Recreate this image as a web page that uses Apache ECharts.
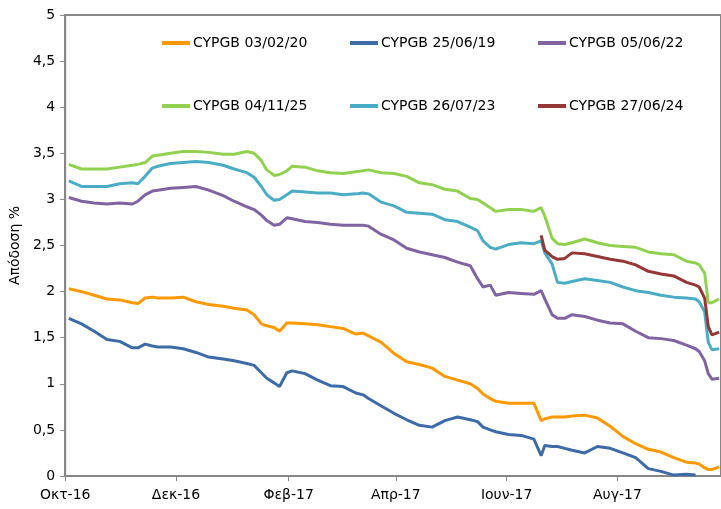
<!DOCTYPE html>
<html>
<head>
<meta charset="utf-8">
<script src="https://cdn.jsdelivr.net/npm/echarts@6/dist/echarts.min.js"></script>
<style>
  html, body { margin: 0; padding: 0; background: #fff; }
  #main { width: 721px; height: 509px; }
</style>
</head>
<body>
<div id="main"></div>
<script>
// sample dates (shared by all series)
var dates = [
    '2016-10-03', '2016-10-10', '2016-10-17', '2016-10-24', '2016-10-31', '2016-11-07', '2016-11-10',
    '2016-11-14', '2016-11-18', '2016-11-21', '2016-11-28', '2016-12-05', '2016-12-12', '2016-12-19',
    '2016-12-27', '2017-01-02', '2017-01-09', '2017-01-13', '2017-01-17', '2017-01-20', '2017-01-24',
    '2017-01-27', '2017-01-31', '2017-02-03', '2017-02-10', '2017-02-17', '2017-02-24', '2017-03-03',
    '2017-03-10', '2017-03-14', '2017-03-17', '2017-03-24', '2017-03-31', '2017-04-07', '2017-04-14',
    '2017-04-21', '2017-04-28', '2017-05-05', '2017-05-12', '2017-05-16', '2017-05-19', '2017-05-23',
    '2017-05-26', '2017-06-02', '2017-06-09', '2017-06-16', '2017-06-20', '2017-06-22', '2017-06-26',
    '2017-06-29', '2017-07-03', '2017-07-07', '2017-07-14', '2017-07-21', '2017-07-28', '2017-08-04',
    '2017-08-11', '2017-08-18', '2017-08-25', '2017-09-01', '2017-09-08', '2017-09-13', '2017-09-15',
    '2017-09-18', '2017-09-20', '2017-09-22', '2017-09-26'
];

var seriesNames = ['CYPGB 03/02/20', 'CYPGB 25/06/19', 'CYPGB 05/06/22',
                   'CYPGB 04/11/25', 'CYPGB 26/07/23', 'CYPGB 27/06/24'];
var colors = ['#FF9900', '#3D6BA7', '#8063A1', '#92D050', '#4BACC6', '#953735'];

// CYPGB 03/02/20
var orange = [
    2.03, 2.00, 1.96, 1.92, 1.91, 1.88, 1.87, 1.93, 1.94, 1.93, 1.93, 1.94, 1.89, 1.86,
    1.84, 1.82, 1.80, 1.75, 1.65, 1.63, 1.61, 1.57, 1.66, 1.66, 1.65, 1.64, 1.62, 1.60,
    1.54, 1.55, 1.52, 1.45, 1.33, 1.24, 1.21, 1.17, 1.08, 1.04, 1.00, 0.95, 0.89, 0.84,
    0.81, 0.79, 0.79, 0.79, 0.60, 0.62, 0.64, 0.64, 0.64, 0.65, 0.66, 0.63, 0.54, 0.43,
    0.35, 0.29, 0.26, 0.20, 0.15, 0.14, 0.13, 0.09, 0.07, 0.07, 0.10
];
// CYPGB 25/06/19 (ends mid-September)
var blue = [
    1.71, 1.65, 1.57, 1.48, 1.46, 1.39, 1.39, 1.43, 1.41, 1.40, 1.40, 1.38, 1.34, 1.29,
    1.27, 1.25, 1.22, 1.20, 1.12, 1.06, 1.01, 0.97, 1.12, 1.14, 1.11, 1.04, 0.98, 0.97,
    0.90, 0.88, 0.84, 0.76, 0.68, 0.61, 0.55, 0.53, 0.60, 0.64, 0.61, 0.59, 0.53, 0.50,
    0.48, 0.45, 0.44, 0.40, 0.22, 0.33, 0.32, 0.32, 0.30, 0.28, 0.25, 0.32, 0.30, 0.25,
    0.20, 0.08, 0.05, 0.01, 0.02, 0.01
];
// CYPGB 05/06/22
var purple = [
    3.02, 2.98, 2.96, 2.95, 2.96, 2.95, 2.98, 3.05, 3.09, 3.10, 3.12, 3.13, 3.14, 3.10,
    3.04, 2.98, 2.92, 2.89, 2.83, 2.77, 2.72, 2.73, 2.80, 2.79, 2.76, 2.75, 2.73, 2.72,
    2.72, 2.72, 2.71, 2.62, 2.56, 2.47, 2.43, 2.40, 2.37, 2.32, 2.28, 2.14, 2.05, 2.07,
    1.96, 1.99, 1.98, 1.97, 2.01, 1.92, 1.75, 1.71, 1.71, 1.75, 1.73, 1.69, 1.66, 1.65,
    1.57, 1.50, 1.49, 1.47, 1.42, 1.38, 1.35, 1.25, 1.11, 1.05, 1.06
];
// CYPGB 04/11/25
var green = [
    3.38, 3.33, 3.33, 3.33, 3.35, 3.37, 3.38, 3.40, 3.47, 3.48, 3.50, 3.52, 3.52, 3.51,
    3.49, 3.49, 3.52, 3.50, 3.42, 3.32, 3.26, 3.27, 3.31, 3.36, 3.35, 3.31, 3.29, 3.28,
    3.30, 3.31, 3.32, 3.29, 3.28, 3.25, 3.18, 3.16, 3.11, 3.09, 3.01, 3.00, 2.96, 2.91,
    2.87, 2.89, 2.89, 2.87, 2.91, 2.82, 2.58, 2.52, 2.51, 2.53, 2.57, 2.53, 2.50, 2.49,
    2.48, 2.43, 2.41, 2.40, 2.33, 2.31, 2.29, 2.20, 1.88, 1.88, 1.92
];
// CYPGB 26/07/23
var cyan = [
    3.20, 3.14, 3.14, 3.14, 3.17, 3.18, 3.17, 3.25, 3.34, 3.36, 3.39, 3.40, 3.41, 3.40,
    3.37, 3.33, 3.29, 3.24, 3.14, 3.05, 2.99, 3.00, 3.05, 3.09, 3.08, 3.07, 3.07, 3.05,
    3.06, 3.07, 3.06, 2.97, 2.93, 2.86, 2.85, 2.84, 2.78, 2.76, 2.70, 2.66, 2.55, 2.48,
    2.46, 2.51, 2.53, 2.52, 2.55, 2.42, 2.30, 2.10, 2.09, 2.11, 2.14, 2.12, 2.10, 2.05,
    2.01, 1.99, 1.96, 1.94, 1.93, 1.92, 1.89, 1.78, 1.45, 1.37, 1.38
];
// CYPGB 27/06/24 (starts 20 June 2017)
var red = [
    2.61, 2.45, 2.38, 2.35, 2.36, 2.42, 2.41, 2.38, 2.35, 2.33, 2.29, 2.22, 2.19, 2.17,
    2.10, 2.07, 2.05, 1.93, 1.62, 1.53, 1.56
];

var xTickDates = ['2016-10-01', '2016-12-01', '2017-02-01', '2017-04-01', '2017-06-01', '2017-08-01'];
var xTickLabels = ['Οκτ-16', 'Δεκ-16', 'Φεβ-17', 'Απρ-17', 'Ιουν-17', 'Αυγ-17'];
var xStart = '2016-10-01', xEnd = '2017-09-27';

// x is counted in days from xStart
function toDay(s) {
    var p = s.split('-');
    var t = Date.UTC(+p[0], +p[1] - 1, +p[2]);
    var q = xStart.split('-');
    return Math.round((t - Date.UTC(+q[0], +q[1] - 1, +q[2])) / 86400000);
}
var xTickDays = xTickDates.map(toDay);

// pair values with dates; offset for series starting later
function pairs(vals, offset) {
    return vals.map(function (v, i) { return [toDay(dates[i + offset]), v]; });
}
var values = [orange, blue, purple, green, cyan, red];
var offsets = [0, 0, 0, 0, 0, dates.length - red.length];

var font = 'Verdana, "DejaVu Sans", sans-serif';
var legendPos = [[157, 31], [345, 31], [533, 31], [157, 94], [345, 94], [533, 94]];

var myChart = echarts.init(document.getElementById('main'));

var option = {
    animation: false,
    color: colors,
    grid: {
        left: 62,
        top: 15,
        right: 0,
        bottom: 33,
        show: true,
        borderColor: '#868686',
        borderWidth: 2
    },
    legend: seriesNames.map(function (name, i) {
        return {
            data: [name],
            left: legendPos[i][0],
            top: legendPos[i][1],
            icon: 'rect',
            itemWidth: 28,
            itemHeight: 4,
            itemGap: 0,
            textStyle: { fontFamily: font, fontSize: 14, color: '#000', padding: [0, 0, 0, -2] }
        };
    }),
    xAxis: {
        type: 'value',
        min: 0,
        max: toDay(xEnd),
        axisLine: { lineStyle: { color: '#868686', width: 2 } },
        axisTick: { show: true, length: 5, customValues: xTickDays, lineStyle: { color: '#868686' } },
        axisLabel: {
            customValues: xTickDays,
            fontFamily: font,
            fontSize: 14,
            color: '#000',
            margin: 12,
            formatter: function (val) {
                var idx = xTickDays.indexOf(val);
                return idx >= 0 ? xTickLabels[idx] : '';
            }
        },
        splitLine: { show: false }
    },
    yAxis: {
        type: 'value',
        min: 0,
        max: 5,
        interval: 0.5,
        name: 'Απόδοση %',
        nameLocation: 'middle',
        nameGap: 37,
        nameTextStyle: { fontFamily: font, fontSize: 14, color: '#000' },
        axisLine: { show: true, lineStyle: { color: '#868686', width: 2 } },
        axisTick: { show: true, length: 5, lineStyle: { color: '#868686' } },
        axisLabel: {
            fontFamily: font,
            fontSize: 14,
            color: '#000',
            margin: 10,
            formatter: function (v) { return String(v).replace('.', ','); }
        },
        splitLine: { show: false }
    },
    series: seriesNames.map(function (name, i) {
        return {
            name: name,
            type: 'line',
            showSymbol: false,
            lineStyle: { width: 3 },
            data: pairs(values[i], offsets[i])
        };
    })
};

myChart.setOption(option);
</script>
</body>
</html>
